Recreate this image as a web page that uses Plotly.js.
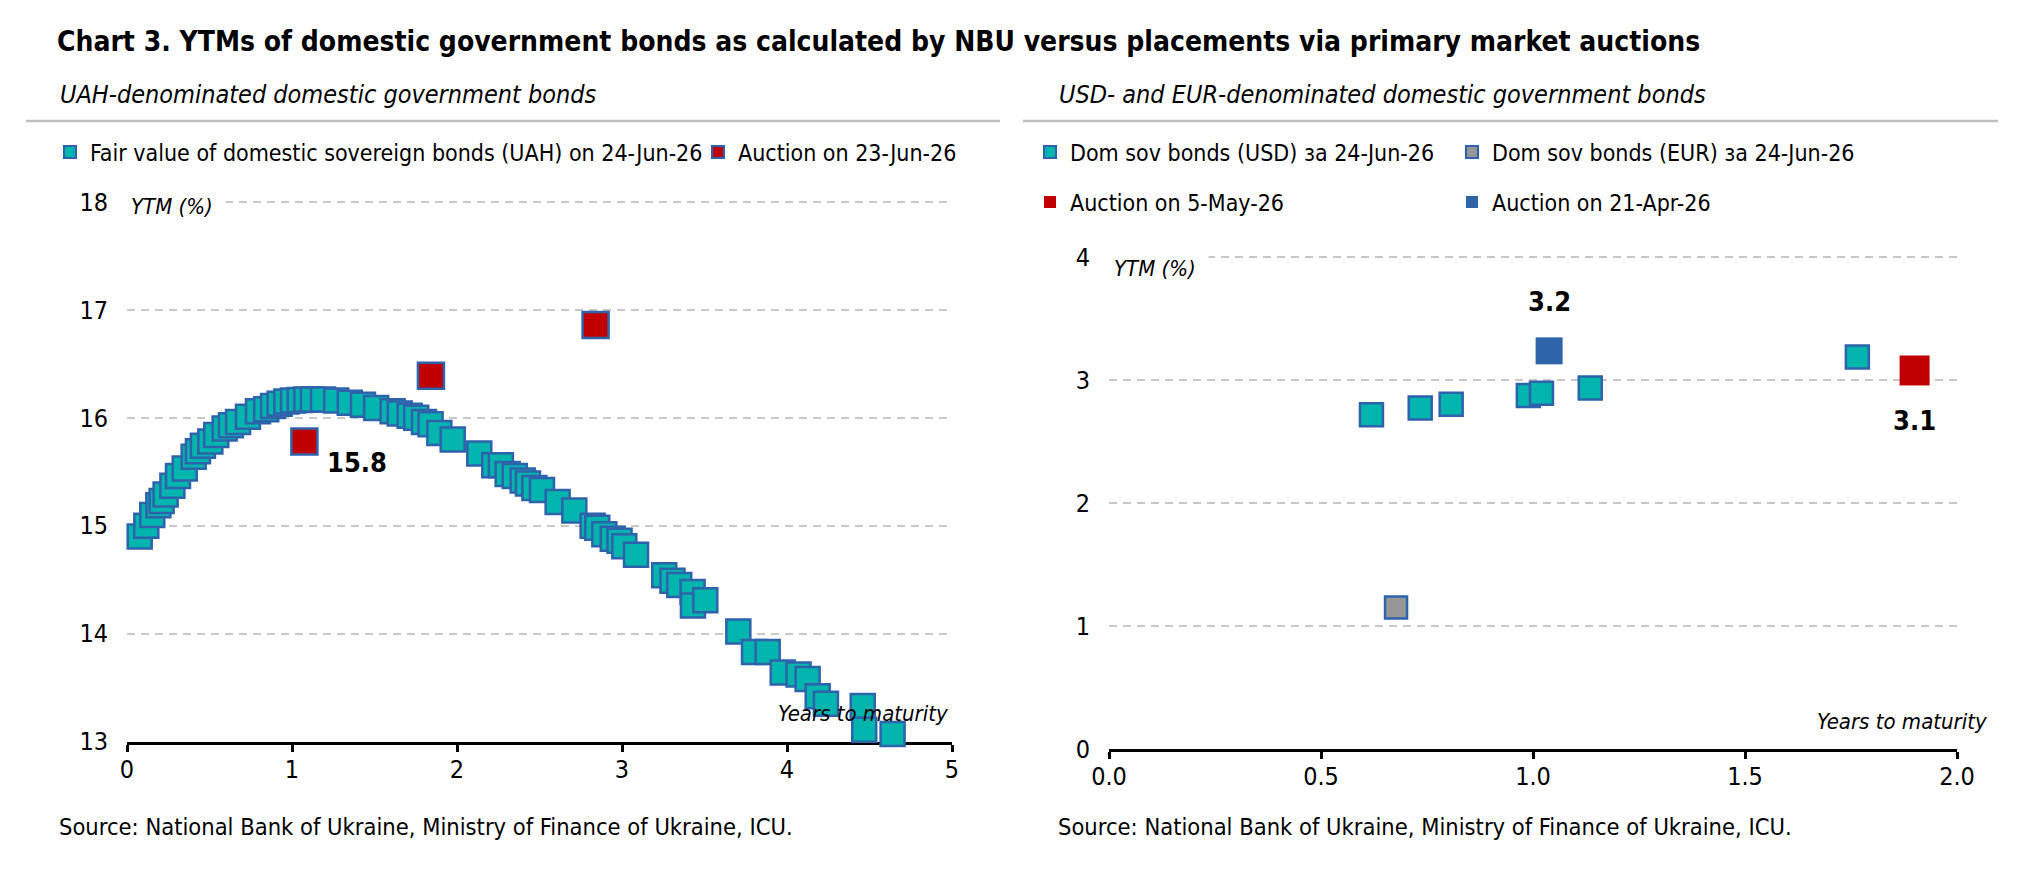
<!DOCTYPE html>
<html><head><meta charset="utf-8">
<script src="https://cdn.plot.ly/plotly-3.0.1.min.js"></script>
<style>html,body{margin:0;padding:0;background:#fff;} #chart{width:2022px;height:871px;}</style>
</head><body><div id="chart"></div>
<script>
const FONT = '"DejaVu Sans Condensed", "Liberation Sans Narrow", sans-serif';
const W = 2022, H = 871;

// ---- Data: UAH-denominated bonds (left panel) ----
const uahMaturity = [0.077,0.117,0.153,0.19,0.21,0.234,0.275,0.309,0.350,0.404,0.430,0.460,0.505,0.541,0.592,0.630,0.673,0.733,0.794,0.844,0.885,0.925,0.966,1.006,1.047,1.087,1.127,1.188,1.268,1.350,1.430,1.510,1.610,1.653,1.713,1.753,1.800,1.840,1.893,1.974,2.135,2.226,2.266,2.307,2.350,2.398,2.430,2.469,2.515,2.610,2.711,2.822,2.850,2.893,2.944,2.985,3.014,3.085,3.256,3.306,3.347,3.428,3.430,3.505,3.705,3.800,3.883,3.974,4.070,4.125,4.186,4.236,4.459,4.468,4.640];
const uahYield = [14.90,15.00,15.10,15.19,15.23,15.29,15.37,15.46,15.53,15.64,15.69,15.74,15.78,15.84,15.90,15.93,15.96,16.01,16.06,16.08,16.11,16.13,16.15,16.16,16.165,16.17,16.17,16.17,16.16,16.14,16.12,16.09,16.06,16.04,16.02,16.00,15.96,15.94,15.86,15.80,15.67,15.56,15.56,15.48,15.46,15.42,15.39,15.35,15.33,15.22,15.14,15.00,14.98,14.92,14.88,14.86,14.81,14.73,14.54,14.49,14.45,14.385,14.26,14.31,14.02,13.83,13.83,13.64,13.62,13.58,13.42,13.35,13.33,13.11,13.07];
const uahAuctionMaturity = [1.075, 1.842, 2.84];
const uahAuctionYield = [15.78, 16.39, 16.86];
const uahLabelIndex = [0];

// ---- Data: USD / EUR bonds (right panel) ----
const usdMaturity = [0.619, 0.734, 0.807, 0.989, 1.020, 1.135, 1.765];
const usdYield = [2.72, 2.775, 2.806, 2.877, 2.894, 2.938, 3.19];
const eurMaturity = [0.677];
const eurYield = [1.15];
const auctionMayMaturity = [1.90];
const auctionMayYield = [3.08];
const auctionAprMaturity = [1.038];
const auctionAprYield = [3.24];

// ---- Text ----
const titleText = 'Chart 3. YTMs of domestic government bonds as calculated by NBU versus placements via primary market auctions';
const leftSubtitle = 'UAH-denominated domestic government bonds';
const rightSubtitle = 'USD- and EUR-denominated domestic government bonds';
const sourceText = 'Source: National Bank of Ukraine, Ministry of Finance of Ukraine, ICU.';
const leftNames = ['Fair value of domestic sovereign bonds (UAH) on 24-Jun-26', 'Auction on 23-Jun-26'];
const rightNames = ['Dom sov bonds (USD) за 24-Jun-26', 'Dom sov bonds (EUR) за 24-Jun-26', 'Auction on 5-May-26', 'Auction on 21-Apr-26'];
const leftXTicks = [0, 1, 2, 3, 4, 5];
const leftYTicks = [13, 14, 15, 16, 17, 18];
const rightXTicks = [0, 0.5, 1.0, 1.5, 2.0];
const rightYTicks = [0, 1, 2, 3, 4];

const TEAL = '#00B5AD', BORDER = '#2E63AC', RED = '#C00000', GREY = '#969696', BLUE = '#2E64AA';
const px = x => x / W, py = y => 1 - y / H;

const traces = [
  {x: uahMaturity, y: uahYield, type: 'scatter', mode: 'markers', name: leftNames[0], legend: 'legend', cliponaxis: false,
   marker: {symbol: 'square', size: 24, color: TEAL, line: {color: BORDER, width: 2.5}}, xaxis: 'x', yaxis: 'y'},
  {x: uahAuctionMaturity, y: uahAuctionYield, type: 'scatter', mode: 'markers', name: leftNames[1], legend: 'legend2', cliponaxis: false,
   marker: {symbol: 'square', size: 26, color: RED, line: {color: BORDER, width: 2.5}}, xaxis: 'x', yaxis: 'y'},
  {x: usdMaturity, y: usdYield, type: 'scatter', mode: 'markers', name: rightNames[0], legend: 'legend3', cliponaxis: false,
   marker: {symbol: 'square', size: 23, color: TEAL, line: {color: BORDER, width: 2.5}}, xaxis: 'x2', yaxis: 'y2'},
  {x: eurMaturity, y: eurYield, type: 'scatter', mode: 'markers', name: rightNames[1], legend: 'legend4', cliponaxis: false,
   marker: {symbol: 'square', size: 22, color: GREY, line: {color: BORDER, width: 2.5}}, xaxis: 'x2', yaxis: 'y2'},
  {x: auctionMayMaturity, y: auctionMayYield, type: 'scatter', mode: 'markers', name: rightNames[2], legend: 'legend5', cliponaxis: false,
   marker: {symbol: 'square', size: 30, color: RED, line: {width: 0}}, xaxis: 'x2', yaxis: 'y2'},
  {x: auctionAprMaturity, y: auctionAprYield, type: 'scatter', mode: 'markers', name: rightNames[3], legend: 'legend6', cliponaxis: false,
   marker: {symbol: 'square', size: 27, color: BLUE, line: {width: 0}}, xaxis: 'x2', yaxis: 'y2'}
];

const tickFont = {family: FONT, size: 25, color: '#000'};
const gridStyle = {showgrid: true, gridcolor: '#C8C8C8', gridwidth: 2, griddash: '8px,6px'};
const xBase = {showline: true, linecolor: '#000', linewidth: 3, ticks: 'outside', ticklen: 7, tickwidth: 3, tickcolor: '#000',
  showgrid: false, zeroline: false, tickfont: tickFont, layer: 'below traces', fixedrange: true, ticklabelstandoff: -4};
const yBase = Object.assign({showline: false, ticks: '', zeroline: false, tickfont: tickFont, ticklabelstandoff: 18, fixedrange: true}, gridStyle);

function legendAt(textX, y) {
  return {x: px(textX - 40), y: py(y), xanchor: 'left', yanchor: 'middle', orientation: 'h', bgcolor: 'rgba(0,0,0,0)',
    itemsizing: 'constant', font: {family: FONT, size: 23, color: '#000'}, itemclick: false, itemdoubleclick: false};
}

const annotations = [
  {text: leftSubtitle, xref: 'paper', yref: 'paper', x: px(58), y: py(95), xanchor: 'left', yanchor: 'middle', showarrow: false,
   font: {family: FONT, size: 25, color: '#000', style: 'italic'}},
  {text: rightSubtitle, xref: 'paper', yref: 'paper', x: px(1057), y: py(95), xanchor: 'left', yanchor: 'middle', showarrow: false,
   font: {family: FONT, size: 25, color: '#000', style: 'italic'}},
  {text: sourceText, xref: 'paper', yref: 'paper', x: px(57), y: py(827), xanchor: 'left', yanchor: 'middle', showarrow: false,
   font: {family: FONT, size: 23.5, color: '#000'}},
  {text: sourceText, xref: 'paper', yref: 'paper', x: px(1056), y: py(827), xanchor: 'left', yanchor: 'middle', showarrow: false,
   font: {family: FONT, size: 23.5, color: '#000'}},
  {text: 'YTM (%)', xref: 'paper', yref: 'paper', x: px(124), y: py(207), xanchor: 'left', yanchor: 'middle', showarrow: false,
   bgcolor: '#fff', borderpad: 6, width: 88, align: 'left', font: {family: FONT, size: 22, color: '#000', style: 'italic'}},
  {text: 'YTM (%)', xref: 'paper', yref: 'paper', x: px(1107), y: py(268), xanchor: 'left', yanchor: 'middle', showarrow: false,
   bgcolor: '#fff', borderpad: 6, width: 88, align: 'left', font: {family: FONT, size: 22, color: '#000', style: 'italic'}},
  {text: 'Years to maturity', xref: 'paper', yref: 'paper', x: px(950), y: py(713), xanchor: 'right', yanchor: 'middle', showarrow: false,
   font: {family: FONT, size: 22, color: '#000', style: 'italic'}},
  {text: 'Years to maturity', xref: 'paper', yref: 'paper', x: px(1989), y: py(721), xanchor: 'right', yanchor: 'middle', showarrow: false,
   font: {family: FONT, size: 22, color: '#000', style: 'italic'}}
];
const labelFont = {family: FONT, size: 27, color: '#000'};
uahLabelIndex.forEach(i => annotations.push({
  text: '<b>' + uahAuctionYield[i].toFixed(1) + '</b>', xref: 'x', yref: 'y', x: uahAuctionMaturity[i], y: uahAuctionYield[i],
  showarrow: false, xshift: 53, yshift: -21, font: labelFont}));
annotations.push({text: '<b>' + auctionAprYield[0].toFixed(1) + '</b>', xref: 'x2', yref: 'y2', x: auctionAprMaturity[0], y: auctionAprYield[0],
  showarrow: false, xshift: 0, yshift: 49, font: labelFont});
annotations.push({text: '<b>' + auctionMayYield[0].toFixed(1) + '</b>', xref: 'x2', yref: 'y2', x: auctionMayMaturity[0], y: auctionMayYield[0],
  showarrow: false, xshift: 0, yshift: -50, font: labelFont});

// small headroom above the top tick so Plotly keeps the top gridline
const leftYMax = 18.015, rightYMax = 4.012;
const layout = {
  width: W, height: H, margin: {l: 0, r: 0, t: 0, b: 0}, paper_bgcolor: '#fff', plot_bgcolor: 'rgba(0,0,0,0)',
  showlegend: true,
  title: {text: '<b>' + titleText + '</b>', x: px(57), xanchor: 'left', xref: 'paper', y: py(41), yanchor: 'middle', yref: 'paper',
    font: {family: FONT, size: 28, color: '#000'}},
  xaxis: Object.assign({}, xBase, {domain: [px(127), px(952)], range: [0, 5], tickvals: leftXTicks, anchor: 'y'}),
  yaxis: Object.assign({}, yBase, {domain: [py(741.5), py(202 - (leftYMax - 18) * 107.9)], range: [13, leftYMax], tickvals: leftYTicks, anchor: 'x'}),
  xaxis2: Object.assign({}, xBase, {domain: [px(1109), px(1957)], range: [0, 2], tickvals: rightXTicks, tickformat: '.1f', anchor: 'y2'}),
  yaxis2: Object.assign({}, yBase, {domain: [py(748.8), py(257.5 - (rightYMax - 4) * 122.8)], range: [0, rightYMax], tickvals: rightYTicks, anchor: 'x2'}),
  legend: legendAt(90, 152),
  legend2: legendAt(738, 152),
  legend3: legendAt(1070, 152),
  legend4: legendAt(1492, 152),
  legend5: legendAt(1070, 202),
  legend6: legendAt(1492, 202),
  shapes: [
    {type: 'line', xref: 'paper', yref: 'paper', x0: px(26), x1: px(1000), y0: py(121), y1: py(121), line: {color: '#BFBFBF', width: 2.5}},
    {type: 'line', xref: 'paper', yref: 'paper', x0: px(1023), x1: px(1998), y0: py(121), y1: py(121), line: {color: '#BFBFBF', width: 2.5}}
  ],
  annotations: annotations
};

Plotly.newPlot('chart', traces, layout, {displayModeBar: false});
</script>
</body></html>
